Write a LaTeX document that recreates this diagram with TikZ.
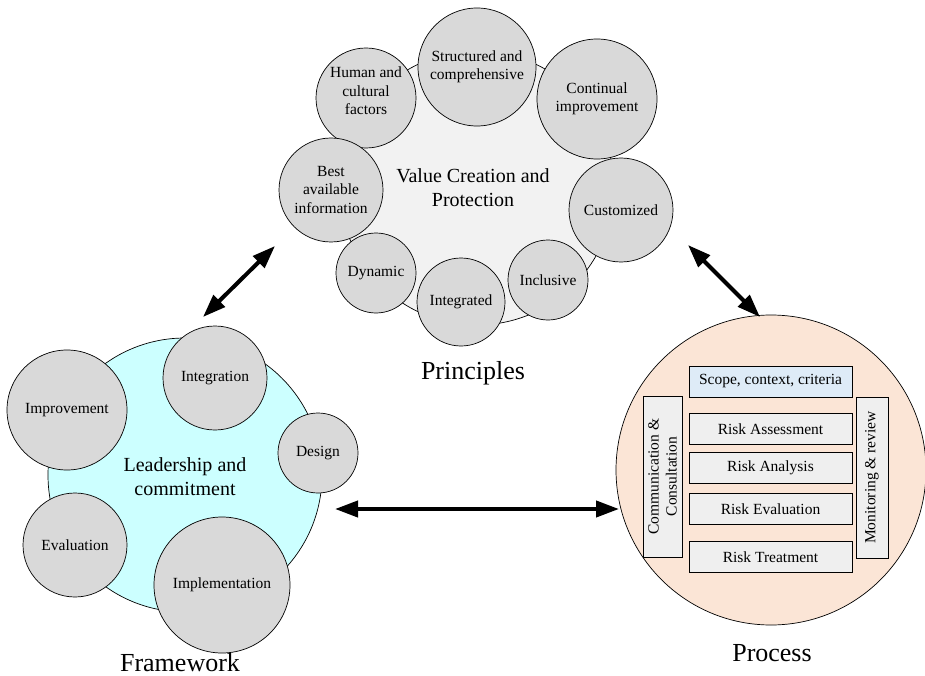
\documentclass[tikz,border=0pt]{standalone}
\usepackage{fontspec}
\setmainfont{Liberation Serif}
\usetikzlibrary{arrows.meta}
\definecolor{cgray}{HTML}{D9D9D9}
\definecolor{pbg}{HTML}{F2F2F2}
\definecolor{fbg}{HTML}{CCFFFF}
\definecolor{prbg}{HTML}{FBE5D6}
\definecolor{boxg}{HTML}{EFEFEF}
\definecolor{boxb}{HTML}{DEEBF7}
\tikzset{
  bigc/.style={circle, draw=black, line width=0.7pt, inner sep=0pt},
  smallc/.style={circle, draw=black, line width=0.7pt, fill=cgray, inner sep=0pt, align=center, font=\fontsize{15.5}{18.5}\selectfont},
  ctext/.style={align=center, inner sep=0pt, font=\fontsize{15.5}{18.5}\selectfont},
  stepbox/.style={draw=black, line width=0.7pt, fill=boxg, inner sep=0pt, minimum width=163pt, minimum height=31pt, font=\fontsize{15.5}{18}\selectfont},
  sidebox/.style={draw=black, line width=0.7pt, fill=boxg, inner sep=0pt, align=center, rotate=90, minimum width=161pt, font=\fontsize{15.5}{18}\selectfont},
  title/.style={font=\fontsize{26}{30}\selectfont},
  centertext/.style={align=center, font=\fontsize{20}{24}\selectfont},
  bigarrow/.style={line width=4pt, {Triangle[length=23pt,width=16pt]}-{Triangle[length=23pt,width=16pt]}}
}
\begin{document}
\begin{tikzpicture}[x=1pt,y=-1pt]
\useasboundingbox (0,0) rectangle (925,676);
% Principles
\node[bigc, fill=pbg, minimum size=274pt] (pr) at (477,188) {};
\node[centertext] (vc) at (473,188) {Value Creation and\\Protection};
\node[smallc, minimum size=100pt] (hum) at (366,98) {};
\node[ctext] (humt) at ([yshift=7pt]hum.center) {Human and\\cultural\\factors};
\node[smallc, minimum size=118pt] (str) at (477,67) {Structured and\\comprehensive};
\node[smallc, minimum size=120pt] (con) at (597,99) {Continual\\improvement};
\node[smallc, minimum size=104pt] (best) at (331,190) {Best\\available\\information};
\node[smallc, minimum size=104pt] (cus) at (621,210) {Customized};
\node[smallc, minimum size=80pt] (dyn) at (376,273) {Dynamic};
\node[smallc, minimum size=88pt] (intd) at (461,302) {Integrated};
\node[smallc, minimum size=80pt] (inc) at (548,280) {Inclusive};
\node[title] (prl) at (473,373) {Principles};
% Framework
\node[bigc, fill=fbg, minimum size=274pt] (fw) at (185,475) {};
\node[centertext] (lc) at (185,477) {Leadership and\\commitment};
\node[smallc, minimum size=104pt] (intg) at (215,378) {Integration};
\node[smallc, minimum size=120pt] (imp) at (67,410) {Improvement};
\node[smallc, minimum size=80pt] (des) at (318,453) {Design};
\node[smallc, minimum size=104pt] (eva) at (75,545) {Evaluation};
\node[smallc, minimum size=136pt] (impl) at (222,585) {Implementation};
\node[title] (fwl) at (180,663) {Framework};
% Process
\node[bigc, fill=prbg, minimum size=310pt] (pc) at (771,470) {};
\node[stepbox, fill=boxb] (scope) at (770.5,381.5) {Scope, context, criteria};
\node[stepbox] (ra) at (770.5,429) {Risk Assessment};
\node[stepbox] (ran) at (770.5,467.5) {Risk Analysis};
\node[stepbox] (rev) at (770.5,509) {Risk Evaluation};
\node[stepbox] (rt) at (770.5,557) {Risk Treatment};
\node[sidebox, minimum height=39pt] (cc) at (662.5,476.5) {Communication \&\\Consultation};
\node[sidebox, minimum height=32pt] (mr) at (872,477.5) {Monitoring \& review};
\node[title] (pcl) at (772,653) {Process};
% arrows
\coordinate (a1) at (203,317);
\coordinate (a2) at (275,246);
\coordinate (b1) at (688,245);
\coordinate (b2) at (760,317);
\coordinate (c1) at (335,509);
\coordinate (c2) at (619,509);
\draw[bigarrow] (a1) -- (a2);
\draw[bigarrow] (b1) -- (b2);
\draw[bigarrow] (c1) -- (c2);
\end{tikzpicture}
\end{document}
